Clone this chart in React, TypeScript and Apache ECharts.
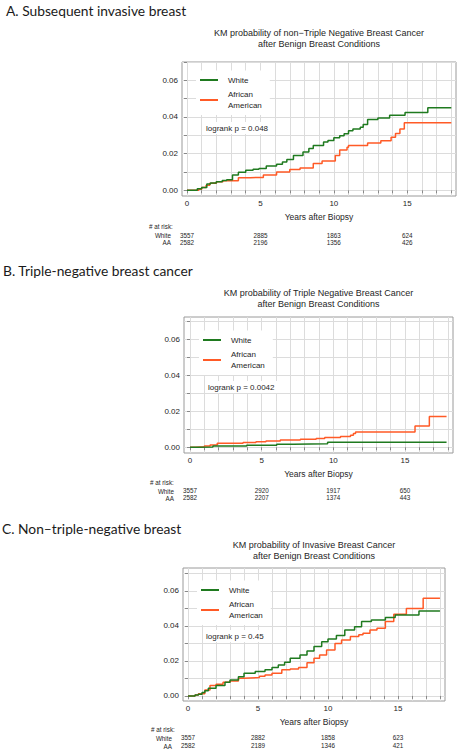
import React, { useEffect, useRef } from "react";
import * as echarts from "echarts";

// ---------- data ----------
const seriesNames = ["White", "African American"];
const headings = [
  "A. Subsequent invasive breast",
  "B. Triple-negative breast cancer",
  "C. Non\u2013triple-negative breast",
];
const chartTitles = [
  "KM probability of non\u2212Triple Negative Breast Cancer\nafter Benign Breast Conditions",
  "KM probability of Triple Negative Breast Cancer\nafter Benign Breast Conditions",
  "KM probability of Invasive Breast Cancer\nafter Benign Breast Conditions",
];
const pValueTexts = ["logrank p = 0.048", "logrank p = 0.0042", "logrank p = 0.45"];
const xAxisName = "Years after Biopsy";
const xTickValues = [0, 1, 2, 3, 4, 5, 6, 7, 8, 9, 10, 11, 12, 13, 14, 15, 16, 17, 18];
const xLabelValues = [0, 5, 10, 15];
const yTickValues = [0, 0.01, 0.02, 0.03, 0.04, 0.05, 0.06, 0.07];
const yLabelValues = [0, 0.02, 0.04, 0.06];
const riskYears = [0, 5, 10, 15];
const riskRowLabels = ["White", "AA"];

// Panel A: non-triple-negative (subsequent invasive)
const whiteA: [number, number][] = [
  [0, 0], [0.7, 0.0008], [1.0, 0.0015], [1.35, 0.0034], [1.6, 0.004], [2.0, 0.0047],
  [2.4, 0.0053], [2.7, 0.0058], [3.1, 0.0083], [3.5, 0.0098], [4.0, 0.011], [4.5, 0.0115],
  [4.9, 0.0119], [5.4, 0.0132], [6.1, 0.0142], [6.5, 0.0155], [6.8, 0.0168], [7.25, 0.019],
  [7.9, 0.0209], [8.3, 0.0228], [8.6, 0.0245], [9.3, 0.0263], [9.6, 0.0272], [10.0, 0.0287],
  [10.4, 0.0298], [10.7, 0.0308], [11.0, 0.0325], [11.3, 0.0335], [11.8, 0.0344],
  [12.0, 0.0359], [12.3, 0.0386], [13.0, 0.0395], [13.8, 0.041], [14.85, 0.0424],
  [16.4, 0.045], [18.0, 0.045],
];
const aaA: [number, number][] = [
  [0, 0], [0.8, 0.0006], [1.0, 0.0015], [1.3, 0.0028], [1.55, 0.0038], [2.0, 0.0047],
  [2.45, 0.0052], [3.5, 0.0069], [4.3, 0.007], [5.2, 0.0083], [6.1, 0.01], [7.0, 0.0113],
  [7.7, 0.0122], [8.6, 0.0146], [9.2, 0.016], [10.1, 0.019], [10.4, 0.022], [10.9, 0.0235],
  [11.0, 0.0245], [12.3, 0.0258], [13.2, 0.027], [13.9, 0.029], [14.2, 0.031],
  [14.5, 0.0335], [14.8, 0.0368], [18.0, 0.0368],
];
const riskWhiteA = [3557, 2885, 1863, 624];
const riskAAA = [2582, 2196, 1356, 426];

// Panel B: triple-negative
const whiteB: [number, number][] = [
  [0, 0], [0.5, 0.0002], [1.6, 0.0007], [3.95, 0.0011], [6.05, 0.0017], [7.2, 0.002],
  [9.6, 0.0027], [17.9, 0.0027],
];
const aaB: [number, number][] = [
  [0, 0], [0.4, 0.0003], [1.0, 0.0007], [1.4, 0.0013], [1.9, 0.0022], [3.7, 0.0026],
  [4.6, 0.003], [5.3, 0.0035], [6.3, 0.004], [7.7, 0.0044], [8.8, 0.0048], [9.4, 0.0054],
  [10.5, 0.006], [11.2, 0.0067], [11.4, 0.0076], [11.55, 0.0085], [15.7, 0.0118],
  [16.7, 0.017], [17.9, 0.017],
];
const riskWhiteB = [3557, 2920, 1917, 650];
const riskAAB = [2582, 2207, 1374, 443];

// Panel C: invasive
const whiteC: [number, number][] = [
  [0, 0], [0.5, 0.0005], [0.74, 0.001], [1.0, 0.0019], [1.2, 0.003], [1.45, 0.0044],
  [2.0, 0.0059], [2.64, 0.0078], [3.0, 0.0091], [3.6, 0.011], [4.0, 0.013], [4.8, 0.0139],
  [5.5, 0.0149], [6.0, 0.0162], [6.45, 0.0177], [6.9, 0.0192], [7.3, 0.0215], [8.0, 0.0234],
  [8.5, 0.0257], [9.0, 0.0282], [9.55, 0.031], [10.0, 0.0326], [10.6, 0.0345],
  [11.2, 0.0377], [11.9, 0.0396], [12.4, 0.0425], [13.1, 0.0434], [14.1, 0.0448],
  [14.8, 0.0463], [16.5, 0.0486], [18.0, 0.0486],
];
const aaC: [number, number][] = [
  [0, 0], [0.5, 0.0005], [0.74, 0.0012], [1.2, 0.0034], [1.57, 0.0059], [2.0, 0.0067],
  [2.5, 0.0078], [3.0, 0.0086], [3.6, 0.0101], [4.0, 0.0105], [5.1, 0.0112], [5.5, 0.012],
  [6.0, 0.013], [6.7, 0.0149], [7.3, 0.0154], [7.9, 0.0162], [8.5, 0.019], [9.0, 0.0215],
  [9.4, 0.0234], [9.9, 0.0263], [10.5, 0.03], [10.97, 0.032], [11.6, 0.0339],
  [12.2, 0.0349], [12.5, 0.0358], [13.0, 0.0377], [13.5, 0.0387], [14.1, 0.0425],
  [14.7, 0.0467], [15.6, 0.05], [16.8, 0.0558], [18.0, 0.0558],
];
const riskWhiteC = [3557, 2882, 1858, 623];
const riskAAC = [2582, 2189, 1346, 421];

const whiteSeries = [whiteA, whiteB, whiteC];
const aaSeries = [aaA, aaB, aaC];
const riskWhite = [riskWhiteA, riskWhiteB, riskWhiteC];
const riskAA = [riskAAA, riskAAB, riskAAC];

// ---------- layout / style ----------
const LEG_PAD = [4, 8, 4, 4];
const P_PAD = 3;
const layouts = [
  { grid: { left: 182, top: 62, width: 274, height: 134 }, xMin: -0.34, xMax: 18.32, yMin: -0.0031, yMax: 0.07,
    headY: 10, headX: 6, titleY: 28, legendTop: 74.5, legendLeft: 200, pX: 206, pY: 128,
    rowX: 171, atRiskX: 149, atRiskY: 226, offW: 36, offA: 43 },
  { grid: { left: 184, top: 317, width: 269, height: 136 }, xMin: -0.42, xMax: 18.35, yMin: -0.0032, yMax: 0.0723,
    headY: 270, headX: 3, titleY: 288, legendTop: 334.5, legendLeft: 203, pX: 208, pY: 387,
    rowX: 174, atRiskX: 150, atRiskY: 482, offW: 34.5, offA: 41.5 },
  { grid: { left: 183, top: 568, width: 262, height: 133 }, xMin: -0.36, xMax: 18.36, yMin: -0.0029, yMax: 0.0731,
    headY: 528, headX: 2, titleY: 540, legendTop: 584.5, legendLeft: 201, pX: 206, pY: 636,
    rowX: 172, atRiskX: 151, atRiskY: 729, offW: 33.5, offA: 41.5 },
];

const GREEN = "#1f7a1f";
const ORANGE = "#ff5a26";
const FONT = "'Liberation Sans', Arial, sans-serif";
const TXT = "#262626";

function buildOption() {
  const grid: any[] = [];
  const xAxis: any[] = [];
  const yAxis: any[] = [];
  const series: any[] = [];
  const legend: any[] = [];
  const graphic: any[] = [];

  layouts.forEach((L, i) => {
    grid.push({ ...L.grid, show: true, borderColor: "#9a9a9a", borderWidth: 1, backgroundColor: "transparent" });
    xAxis.push({
      type: "value", gridIndex: i, min: L.xMin, max: L.xMax, position: "bottom",
      axisLine: { show: false },
      axisTick: { show: true, customValues: xTickValues, length: 3, lineStyle: { color: "#888" } },
      axisLabel: { customValues: xLabelValues, fontSize: 8, color: TXT, margin: 3, fontFamily: FONT },
      splitLine: { show: true, lineStyle: { color: "#dcdcdc", width: 1 } },
      name: xAxisName, nameLocation: "middle", nameGap: 16,
      nameTextStyle: { fontSize: 8.5, color: TXT, fontFamily: FONT },
    });
    [riskWhite[i], riskAA[i]].forEach((row, r) => {
      xAxis.push({
        type: "value", gridIndex: i, min: L.xMin, max: L.xMax, position: "bottom",
        offset: r === 0 ? L.offW : L.offA,
        axisLine: { show: false }, axisTick: { show: false }, splitLine: { show: false },
        axisLabel: {
          customValues: riskYears, margin: 0, fontSize: 6.3, color: TXT, fontFamily: FONT,
          formatter: (v: number) => String(row[riskYears.indexOf(v)]),
        },
      });
    });
    yAxis.push({
      type: "value", gridIndex: i, min: L.yMin, max: L.yMax,
      axisLine: { show: false },
      axisTick: { show: true, customValues: yTickValues, length: 3, lineStyle: { color: "#888" } },
      axisLabel: {
        customValues: yLabelValues, fontSize: 8, color: TXT, margin: 4, fontFamily: FONT,
        formatter: (v: number) => v.toFixed(2),
      },
      splitLine: { show: true, lineStyle: { color: "#dcdcdc", width: 1 } },
    });
    series.push({
      name: seriesNames[0], type: "line", step: "end", xAxisIndex: i * 3, yAxisIndex: i,
      data: whiteSeries[i], showSymbol: false, symbol: "none", color: GREEN,
      lineStyle: { width: 1.5, color: GREEN }, z: 3,
    });
    series.push({
      name: seriesNames[1], type: "line", step: "end", xAxisIndex: i * 3, yAxisIndex: i,
      data: aaSeries[i], showSymbol: false, symbol: "none", color: ORANGE,
      lineStyle: { width: 1.5, color: ORANGE }, z: 2,
    });
    legend.push({
      data: seriesNames, orient: "vertical",
      left: L.legendLeft - LEG_PAD[3], top: L.legendTop - LEG_PAD[0], padding: LEG_PAD,
      backgroundColor: "#ffffff", z: 5,
      itemGap: 3.5, itemWidth: 18, itemHeight: 2, icon: "rect", selectedMode: false,
      formatter: (n: string) => (n === "African American" ? "African\nAmerican" : n),
      textStyle: { fontSize: 8, color: TXT, fontFamily: FONT, lineHeight: 11, padding: [0, 0, 0, 5] },
    });
    graphic.push({
      type: "text", x: L.headX, y: L.headY,
      style: { text: headings[i], font: "13.8px Lato, 'Open Sans', sans-serif", fill: "#1a1a1a", verticalAlign: "middle", align: "left" },
    });
    graphic.push({
      type: "text", x: L.grid.left + L.grid.width / 2, y: L.titleY,
      style: { text: chartTitles[i], fontSize: 9, fontFamily: FONT, fill: TXT, align: "center", verticalAlign: "top", lineHeight: 10.5 },
    });
    graphic.push({
      type: "text", x: L.pX - P_PAD, y: L.pY, z: 10,
      style: {
        text: pValueTexts[i], fontSize: 8, fontFamily: FONT, fill: TXT, align: "left", verticalAlign: "middle",
        backgroundColor: "#ffffff", padding: [2, P_PAD, 2, P_PAD],
      },
    });
    graphic.push({
      type: "text", x: L.atRiskX, y: L.atRiskY,
      style: { text: "# at risk:", fontSize: 6.3, fontFamily: FONT, fill: TXT, align: "left", verticalAlign: "middle" },
    });
    riskRowLabels.forEach((lab, r) => {
      graphic.push({
        type: "text", x: L.rowX, y: L.grid.top + L.grid.height + (r === 0 ? L.offW : L.offA) + 3.5,
        style: { text: lab, fontSize: 6.3, fontFamily: FONT, fill: TXT, align: "right", verticalAlign: "middle" },
      });
    });
  });

  return {
    animation: false,
    backgroundColor: "#ffffff",
    textStyle: { fontFamily: FONT },
    grid, xAxis, yAxis, series, legend, graphic,
  };
}

export default function App() {
  const ref = useRef<HTMLDivElement>(null);
  useEffect(() => {
    if (!ref.current) return;
    const chart = echarts.init(ref.current, undefined, { renderer: "svg" });
    chart.setOption(buildOption());
    return () => chart.dispose();
  }, []);
  return (
    <div
      ref={ref}
      style={{ position: "absolute", left: 0, top: 0, width: 458, height: 750, background: "#fff" }}
    />
  );
}
